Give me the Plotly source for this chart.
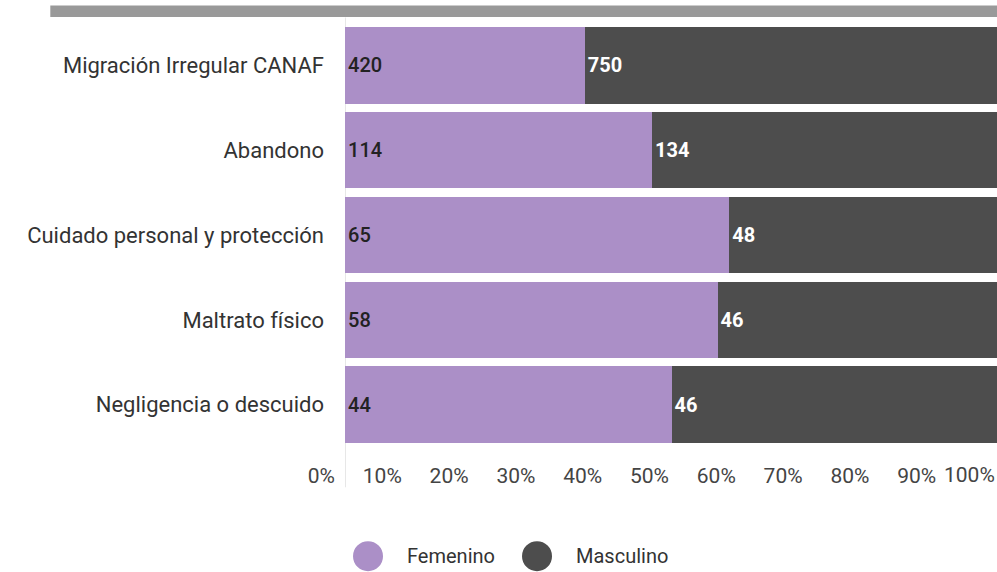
import plotly.graph_objects as go

# casos por motivo de ingreso, separados por sexo
categorias = [
    "Migración Irregular CANAF",
    "Abandono",
    "Cuidado personal y protección",
    "Maltrato físico",
    "Negligencia o descuido",
]
femenino = [420, 114, 65, 58, 44]
masculino = [750, 134, 48, 46, 46]

series = ["Femenino", "Masculino"]
colores = ["#ab8fc7", "#4d4d4d"]
colores_texto = ["#222222", "#ffffff"]
pesos_texto = [500, 700]

ticks = [0, 0.1, 0.2, 0.3, 0.4, 0.5, 0.6, 0.7, 0.8, 0.9]

FONT = "Roboto"

fig = go.Figure()
for nombre, valores, color, ctexto, peso in zip(
    series, [femenino, masculino], colores, colores_texto, pesos_texto
):
    fig.add_trace(
        go.Bar(
            y=categorias,
            x=valores,
            name=nombre,
            orientation="h",
            marker=dict(color=color, line=dict(width=0)),
            text=valores,
            texttemplate="%{text}",
            textposition="inside",
            insidetextanchor="start",
            textfont=dict(family=FONT, size=20, color=ctexto, weight=peso),
            showlegend=False,
        )
    )

fig.update_layout(
    width=997,
    height=572,
    barmode="stack",
    barnorm="fraction",
    bargap=0.1,
    margin=dict(l=345, r=0, t=22.5, b=124.5),
    paper_bgcolor="white",
    plot_bgcolor="white",
    font=dict(family=FONT, color="#333333"),
)

fig.update_xaxes(
    range=[0, 652 / 668],
    tickvals=ticks,
    tickformat=".0%",
    ticklabelposition="outside left",
    ticklabelshift=-10,
    ticklabelstandoff=14,
    tickfont=dict(family=FONT, size=21, color="#444444"),
    showgrid=False,
    zeroline=False,
    showline=False,
    fixedrange=True,
)
fig.update_yaxes(
    autorange="reversed",
    tickfont=dict(family=FONT, size=22, color="#333333"),
    ticklabelstandoff=20,
    showgrid=False,
    showline=False,
)

# franja gris superior y línea del eje
fig.add_shape(type="rect", xref="paper", yref="paper",
              x0=-0.452, x1=1, y0=1.014, y1=1.041,
              fillcolor="#999999", line=dict(width=0), layer="above")
fig.add_shape(type="line", xref="x", yref="paper",
              x0=0, x1=0, y0=-0.095, y1=1.013,
              line=dict(color="#d0d0d0", width=1), layer="below")

# etiqueta de 100% (fuera del rango visible)
fig.add_annotation(text="100%", xref="paper", yref="paper", x=1.0, y=-0.065,
                   xanchor="right", yanchor="middle", showarrow=False,
                   font=dict(family=FONT, size=21, color="#444444"))

# leyenda con círculos grandes
leyenda_x = [0.0353, 0.2945]
for nombre, color, lx in zip(series, colores, leyenda_x):
    fig.add_shape(type="circle", xref="paper", yref="paper",
                  xsizemode="pixel", ysizemode="pixel",
                  xanchor=lx, yanchor=-0.2576,
                  x0=-15, x1=15, y0=-15, y1=15,
                  fillcolor=color, line=dict(width=0))
    fig.add_annotation(text=nombre, xref="paper", yref="paper",
                       x=lx + 0.0567, y=-0.2576, xanchor="left", yanchor="middle",
                       showarrow=False,
                       font=dict(family=FONT, size=20, color="#333333"))

fig.write_html(
    "out.html",
    config={"displayModeBar": False},
    post_script="document.body.style.margin='0';document.body.style.overflow='hidden';",
)
